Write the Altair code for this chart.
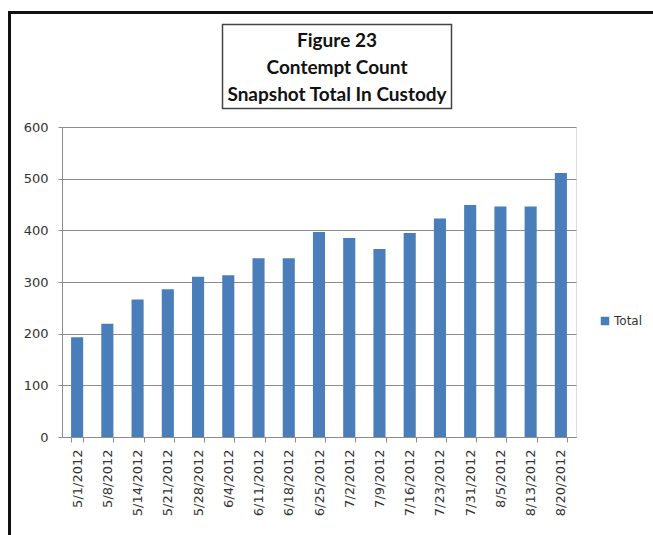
import altair as alt
import pandas as pd

# Weekly snapshot dates and the total number held in custody on contempt
dates = ["5/1/2012", "5/8/2012", "5/14/2012", "5/21/2012", "5/28/2012",
         "6/4/2012", "6/11/2012", "6/18/2012", "6/25/2012", "7/2/2012",
         "7/9/2012", "7/16/2012", "7/23/2012", "7/31/2012", "8/5/2012",
         "8/13/2012", "8/20/2012"]
totals = [193, 219, 266, 286, 310, 313, 346, 346, 397, 385,
          364, 395, 423, 449, 446, 446, 511]
y_ticks = [0, 100, 200, 300, 400, 500, 600]
title_lines = ["Figure 23", "Contempt Count", "Snapshot Total In Custody"]

df = pd.DataFrame({"date": dates, "total": totals, "series": "Total"})
one = pd.DataFrame({"k": [0]})

AXIS_FONT = "DejaVu Sans"
BLUE = "#4A7EBB"

bars = alt.Chart(df).mark_bar(color=BLUE).encode(
    x=alt.X(
        "date:N", sort=None,
        scale=alt.Scale(paddingInner=0.6, paddingOuter=0.3),
        axis=alt.Axis(title=None, labelAngle=-90, tickBand="extent",
                      grid=False, tickSize=5, labelPadding=7,
                      domainColor="#8c8c8c", tickColor="#8c8c8c",
                      labelFont=AXIS_FONT, labelFontSize=13,
                      labelColor="#333333"),
    ),
    y=alt.Y(
        "total:Q",
        scale=alt.Scale(domain=[0, 600], nice=False),
        axis=alt.Axis(title=None, values=y_ticks, grid=True,
                      gridColor="#8c8c8c", gridWidth=1, tickSize=4,
                      tickColor="#8c8c8c", domainColor="#8c8c8c",
                      labelPadding=10, labelFont=AXIS_FONT,
                      labelFontSize=13, labelColor="#333333"),
    ),
    color=alt.Color(
        "series:N", scale=alt.Scale(range=[BLUE]),
        legend=alt.Legend(title=None, orient="none", legendX=537,
                          legendY=188, symbolType="square", symbolSize=72,
                          symbolStrokeWidth=0, labelFont=AXIS_FONT,
                          labelFontSize=12, labelColor="#333333",
                          labelOffset=3),
    ),
)

# frame around the title
title_box = alt.Chart(one).mark_rect(
    fillOpacity=0, stroke="#444444", strokeWidth=1.5
).encode(
    x=alt.value(160.5), x2=alt.value(389.5),
    y=alt.value(-102.5), y2=alt.value(-18.5),
)

# three-line heading inside the frame
title_text = alt.Chart(one).mark_text(
    text=title_lines, font="Lato", fontSize=19, fontWeight="bold",
    color="#111111", lineHeight=27, align="center", baseline="middle",
).encode(x=alt.value(275), y=alt.value(-86))

# outer border of the chart object: top and left edges only
top_edge = alt.Chart(one).mark_rule(color="#111111", strokeWidth=3).encode(
    x=alt.value(-54), x2=alt.value(600), y=alt.value(-114.5)
)
left_edge = alt.Chart(one).mark_rule(color="#111111", strokeWidth=3).encode(
    x=alt.value(-52.5), y=alt.value(-116), y2=alt.value(420)
)

chart = alt.layer(top_edge, left_edge, title_box, title_text, bars).properties(
    width=514, height=310,
    padding={"left": 62, "top": 127, "right": 77, "bottom": 98},
    autosize=alt.AutoSizeParams(type="none"),
).configure_view(stroke="transparent", strokeWidth=0).configure(background="white")

chart.save("out.html", embed_options={"renderer": "svg", "actions": False})
